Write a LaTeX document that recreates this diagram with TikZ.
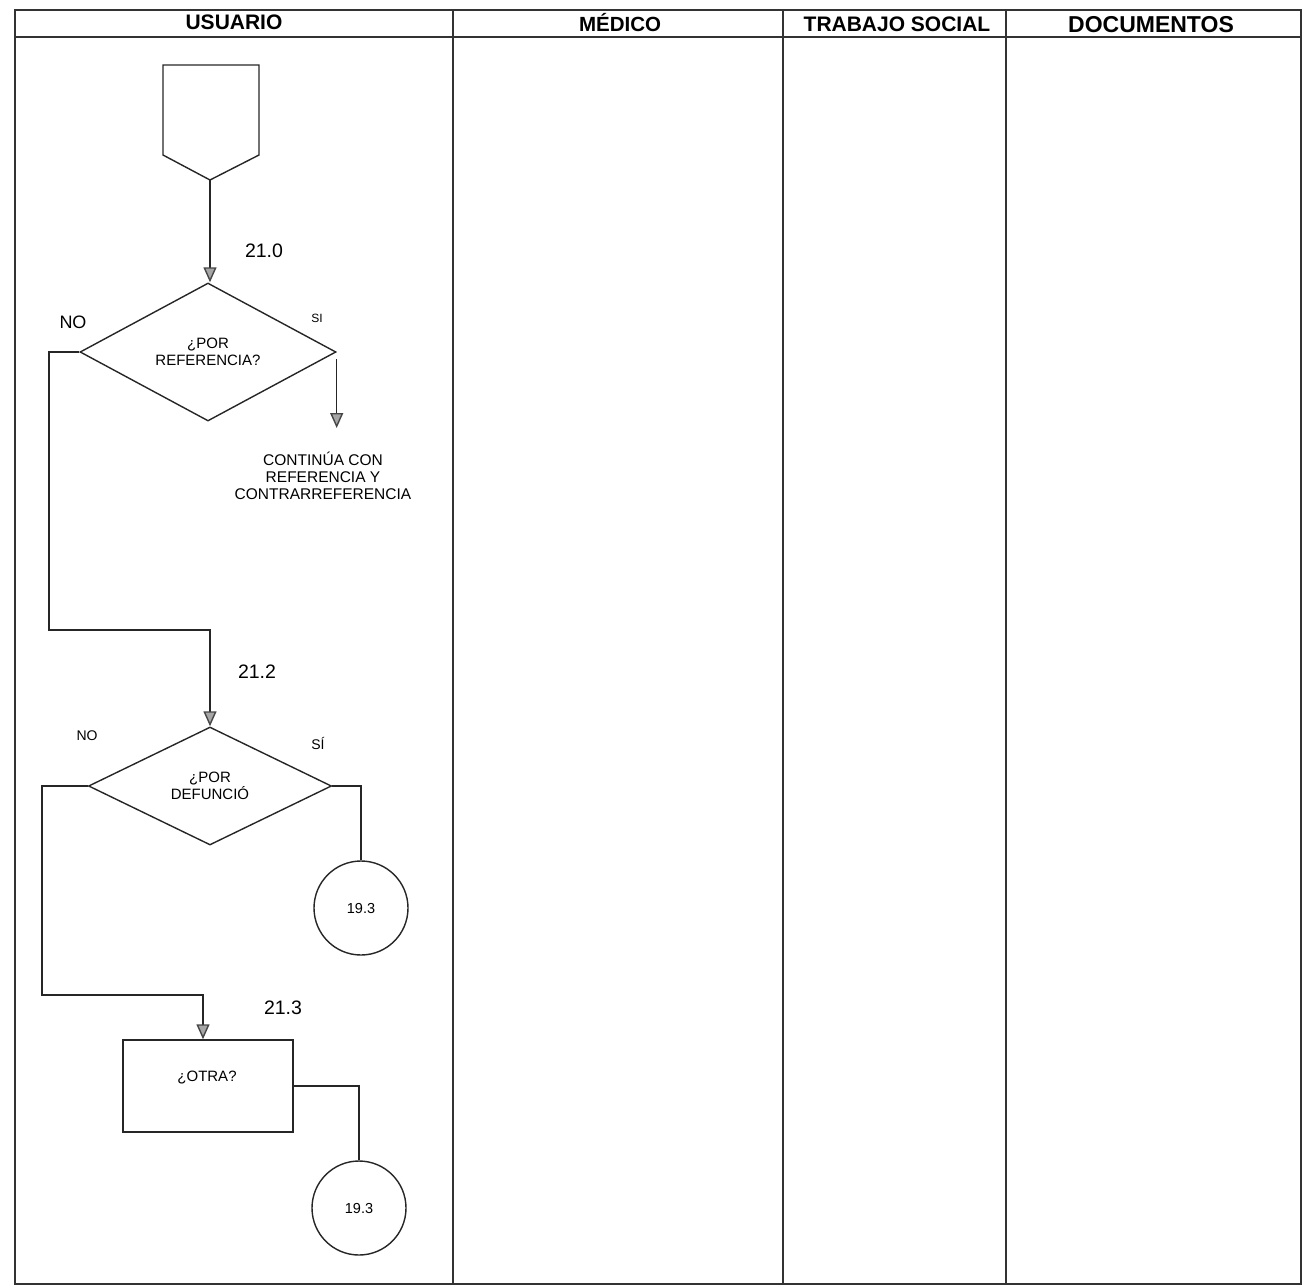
\documentclass[tikz,border=0pt]{standalone}
\usepackage{fontspec}
\setmainfont{Liberation Sans}
\usetikzlibrary{shapes.geometric,arrows.meta,calc}
\begin{document}
\begin{tikzpicture}[x=1pt,y=-1pt,
  tbl/.style={line width=1.5pt,draw=black!80},
  hdr/.style={font=\fontsize{21}{23}\selectfont\bfseries,anchor=center},
  ln/.style={line width=1.4pt,draw=black!85},
  arr/.style={ln,-{Triangle[width=13pt,length=15pt,color=gray!55!black,fill=gray!70]}},
  dec/.style={diamond,draw,line width=1.4pt,draw=black!85,inner sep=0pt,aspect=1.85,align=center,font=\fontsize{15}{17}\selectfont},
  conn/.style={circle,draw,line width=1.4pt,draw=black!85,minimum size=94pt,inner sep=0pt,font=\fontsize{14.5}{16}\selectfont},
  proc/.style={rectangle,draw,line width=1.4pt,draw=black!85,minimum width=170pt,minimum height=92pt,inner sep=0pt},
  num/.style={font=\fontsize{19.5}{21}\selectfont},
  small/.style={font=\fontsize{15.5}{18}\selectfont,align=center}
]
\useasboundingbox (0,0) rectangle (1310,1288);
% table
\draw[tbl] (15,10) rectangle (1301,1284);
\draw[tbl] (15,37) -- (1301,37);
\draw[tbl] (453,10) -- (453,1284);
\draw[tbl] (783,10) -- (783,1284);
\draw[tbl] (1006,10) -- (1006,1284);
\node[hdr] (h1) at (234,22) {USUARIO};
\node[hdr,font=\fontsize{20.5}{23}\selectfont\bfseries] (h2) at (620,23) {MÉDICO};
\node[hdr] (h3) at (897,24) {TRABAJO SOCIAL};
\node[hdr,font=\fontsize{23}{25}\selectfont\bfseries] (h4) at (1151,25) {DOCUMENTOS};
% off-page connector
\coordinate (p1) at (210,180);
\draw[ln] (163,65) -- (259,65) -- (259,155) -- (p1) -- (163,155) -- cycle;
% decision 1
\node[dec,minimum width=256pt,minimum height=138pt] (d1) at (208,352) {¿POR\\REFERENCIA?};
\draw[arr] (p1) -- (p1 |- d1.north);
\node[num] (l210) at (264,251) {21.0};
\node[font=\fontsize{18}{20}\selectfont] (no1) at (73,322) {NO};
\node[font=\fontsize{12}{14}\selectfont] (si1) at (317,318) {SI};
\coordinate (s1end) at (336,428);
\draw[arr] ([yshift=-7pt]d1.east) -- (d1.east |- s1end);
\node[small] (cont) at (323,476) {CONTINÚA CON\\[-1pt]REFERENCIA Y\\[-1pt]CONTRARREFERENCIA};
% decision 2
\node[dec,minimum width=243pt,minimum height=118pt] (d2) at (210,786) {¿POR\\DEFUNCIÓ};
\coordinate (n1a) at (49,630);
\draw[arr] (d1.west) -| (n1a) -| (d2.north);
\node[num] (l212) at (257,672) {21.2};
\node[font=\fontsize{14}{16}\selectfont] (no2) at (87,736) {NO};
\node[font=\fontsize{14}{16}\selectfont] (si2) at (318,743) {SÍ};
\node[conn] (c1) at (361,908) {19.3};
\draw[ln] (d2.east) -| (c1.north);
% process
\node[proc] (r) at (208,1086) {};
\node[font=\fontsize{15}{17}\selectfont] (otra) at (207,1078) {¿OTRA?};
\coordinate (n2a) at (42,995);
\draw[arr] (d2.west) -| (n2a) -| ([xshift=-5pt]r.north);
\node[num] (l213) at (283,1008) {21.3};
\node[conn] (c2) at (359,1208) {19.3};
\draw[ln] (r.east) -| (c2.north);
\end{tikzpicture}
\end{document}
